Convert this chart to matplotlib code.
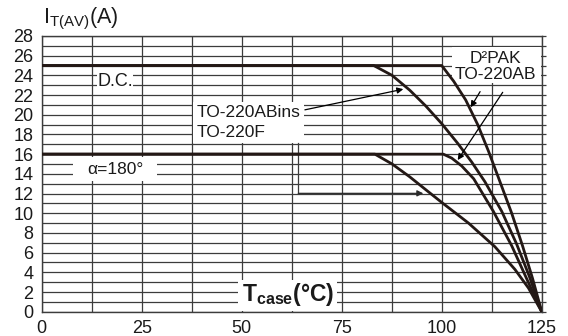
import matplotlib
matplotlib.use("Agg")
import matplotlib.pyplot as plt
from matplotlib.patches import Rectangle
import numpy as np

plt.rcParams['font.family'] = ['Liberation Sans', 'DejaVu Sans']
plt.rcParams['mathtext.fontset'] = 'custom'
plt.rcParams['mathtext.rm'] = 'Liberation Sans'
plt.rcParams['mathtext.it'] = 'Liberation Sans:italic'
plt.rcParams['mathtext.bf'] = 'Liberation Sans:bold'

# ---- data ----
t_d2pak_dc = [0, 100, 103, 106, 109, 111.7, 114.2, 117.5, 120.2, 122.7, 125]
i_d2pak_dc = [25, 25, 23.4, 21.5, 19.0, 16.3, 13.6, 10.0, 6.7, 3.4, 0]

t_ins_dc = [0, 83, 87.6, 92, 96, 100, 104, 107.5, 110.8, 115, 118.7, 121.9, 125]
i_ins_dc = [25, 25, 24.0, 22.5, 20.9, 19.1, 17.1, 15.2, 13.2, 10.2, 6.9, 3.6, 0]

t_d2pak_180 = [0, 100.4, 102.5, 105, 108, 112.9, 117.5, 121.3, 125]
i_d2pak_180 = [16, 16, 15.6, 14.8, 13.5, 10.2, 6.7, 3.3, 0]

t_ins_180 = [0, 83.3, 87.6, 92, 96.3, 100, 106.7, 113.3, 118.3, 121.7, 125]
i_ins_180 = [16, 16, 15.0, 13.7, 12.3, 11.1, 9.0, 6.6, 4.3, 2.4, 0]

x_ticks = [0, 25, 50, 75, 100, 125]
y_ticks = list(range(0, 29, 2))

# ---- figure ----
fig = plt.figure(figsize=(5.68, 3.36), dpi=100)
ax = fig.add_axes([0.0734, 0.0723, 0.8803, 0.8206])

ax.set_xlim(0, 125)
ax.set_ylim(0, 28)
xgrid = np.arange(0, 125.1, 12.5)
ax.set_xticks(xgrid)
ax.set_xticklabels([f'{v:g}' if v in x_ticks else '' for v in xgrid])
ax.set_yticks(range(0, 29))
ax.set_yticklabels([str(v) if v in y_ticks else '' for v in range(0, 29)])
ax.tick_params(axis='both', length=0, labelsize=13, colors='#1a1a1a')
ax.tick_params(axis='x', pad=6)
ax.tick_params(axis='y', pad=6)
ax.set_axisbelow(True)
ax.grid(True, color='#3c3c3c', lw=0.9)
for s in ax.spines.values():
    s.set_color('#3c3c3c')
    s.set_linewidth(1.0)

sec = ax.secondary_yaxis('right')
sec.set_yticks(range(0, 29))
sec.tick_params(length=3, width=0.9, color='#3c3c3c', labelright=False)
sec.spines['right'].set_visible(False)

curve_color = '#231815'
for t, i in [(t_d2pak_dc, i_d2pak_dc), (t_ins_dc, i_ins_dc),
             (t_d2pak_180, i_d2pak_180), (t_ins_180, i_ins_180)]:
    ax.plot(t, i, color=curve_color, lw=2.0, zorder=4,
            solid_joinstyle='round', solid_capstyle='round')

# white label boxes
boxes = [
    (13.8, 22.3, 9.0, 2.45),     # D.C.
    (7.8, 13.3, 21.0, 2.4),      # alpha
    (37.8, 17.1, 27.7, 4.2),     # TO-220ABins / TO-220F
    (102.6, 23.2, 22.2, 3.7),    # D2PAK / TO-220AB
    (49.1, 0.05, 24.8, 3.15),    # x label
]
for (bx, by, bw, bh) in boxes:
    ax.add_patch(Rectangle((bx, by), bw, bh, facecolor='white', edgecolor='none', zorder=1))

tc = '#1a1a1a'
ax.text(18.3, 23.4, 'D.C.', fontsize=13, ha='center', va='center', color=tc, zorder=5)
ax.text(18.3, 14.45, 'α=180°', fontsize=12.5, ha='center', va='center', color=tc, zorder=5)
ax.text(38.8, 20.25, 'TO-220ABins', fontsize=12.5, ha='left', va='center', color=tc, zorder=5)
ax.text(38.8, 18.2, 'TO-220F', fontsize=12.5, ha='left', va='center', color=tc, zorder=5)
ax.text(113.4, 25.7, 'D²PAK', fontsize=12.5, ha='center', va='center', color=tc, zorder=5)
ax.text(113.4, 24.1, 'TO-220AB', fontsize=12.5, ha='center', va='center', color=tc, zorder=5)
ax.text(61.5, 1.75, r'T$_{\mathbf{case}}$(°C)', fontsize=16.5, fontweight='bold',
        ha='center', va='center', color=tc, zorder=5)

fig.text(0.076, 0.945, r'I$_{\mathrm{T(AV)}}$(A)', fontsize=15.5, ha='left', va='center', color=tc)

ap = dict(arrowstyle='-|>', mutation_scale=9, lw=0.9, color='black', shrinkA=0, shrinkB=0)
ax.annotate('', xy=(90.4, 22.6), xytext=(65.8, 20.5), arrowprops=ap, zorder=5)
ax.annotate('', xy=(107.25, 20.76), xytext=(109.6, 22.35), arrowprops=ap, zorder=5)
ax.annotate('', xy=(104.0, 15.4), xytext=(115.25, 22.28), arrowprops=ap, zorder=5)
ax.plot([64.15, 64.15], [17.1, 12.02], color='#3c3c3c', lw=0.9, zorder=3)
ax.annotate('', xy=(95.4, 12.02), xytext=(64.15, 12.02),
            arrowprops=dict(ap, color='#2a2a2a'), zorder=5)

fig.savefig('out.png', dpi=100)
